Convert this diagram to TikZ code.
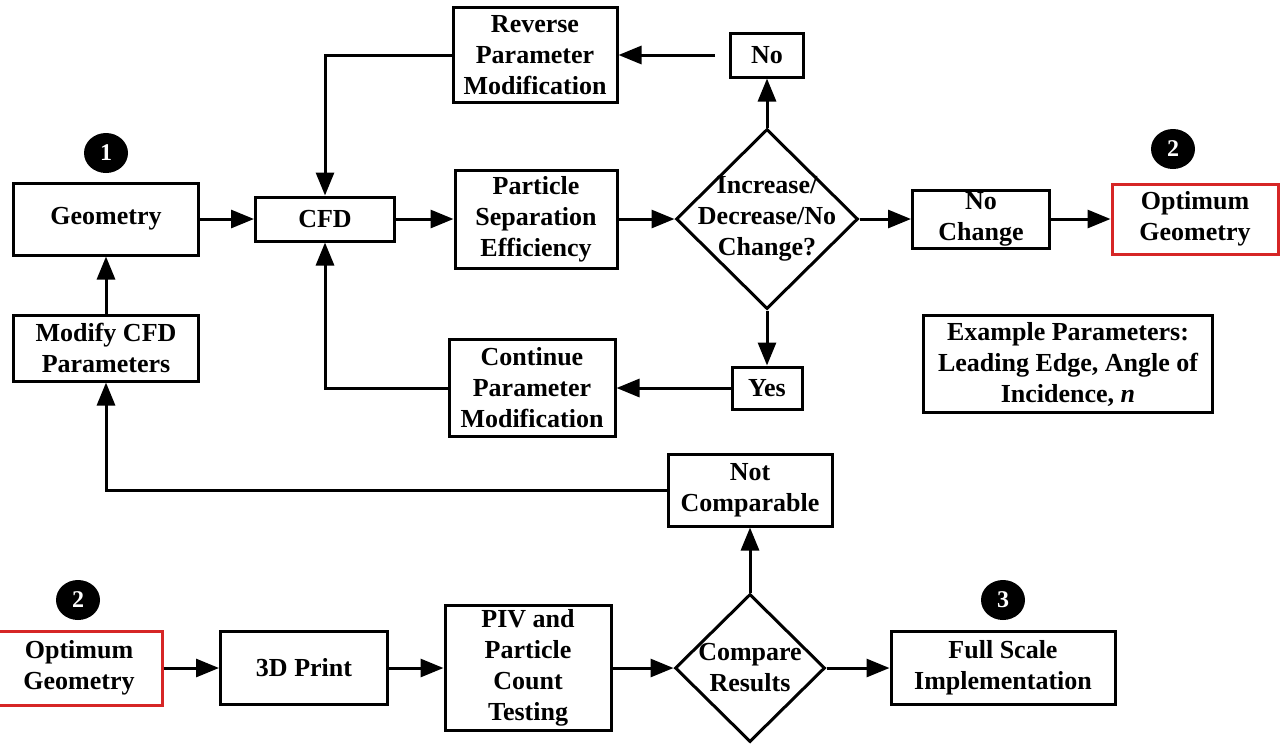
\documentclass[tikz,border=0pt]{standalone}
\usepackage{fontspec}
\setmainfont{Liberation Serif}
\usetikzlibrary{arrows.meta,shapes.geometric}
\definecolor{optred}{RGB}{214,38,38}

\tikzset{
  blk/.style={draw, line width=3pt, align=center, inner sep=0pt,
    font=\fontsize{26}{31}\selectfont\bfseries},
  optbox/.style={blk, draw=optred},
  decision/.style={draw, diamond, line width=3pt, inner sep=0pt},
  dectext/.style={align=center, font=\fontsize{26}{31}\selectfont\bfseries},
  marker/.style={ellipse, fill=black, text=white, minimum width=44pt,
    minimum height=40pt, inner sep=0pt, font=\fontsize{24}{24}\selectfont\bfseries},
  flow/.style={line width=3pt, -{Triangle[length=23pt,width=18pt]}}
}

\begin{document}
\begin{tikzpicture}[x=1pt, y=-1pt, line join=miter]
                \useasboundingbox (0,0) rectangle (1281,745);

                % top loop
                \node[blk, minimum width=185, minimum height=72] (geom) at (106,219) {Geometry};
                \node[blk, minimum width=139, minimum height=44] (cfd) at (325,219) {CFD};
                \node[blk, minimum width=162, minimum height=98] (pse) at (536,219) {Particle\\Separation\\Efficiency};
                \node[decision, minimum width=182, minimum height=180] (incdec) at (767,219) {};
                \node[dectext] (incdectxt) at (767,219) {Increase/\\Decrease/No\\Change?};
                \node[blk, minimum width=137, minimum height=58] (nochg) at (981,219) {No\\Change};
                \node[optbox, minimum width=166, minimum height=70] (optA) at (1195,219) {Optimum\\Geometry};

                \node[blk, minimum width=73, minimum height=44] (no) at (767,55) {No};
                \node[blk, minimum width=164, minimum height=95] (rev) at (535,55) {Reverse\\Parameter\\Modification};
                \node[blk, minimum width=70, minimum height=42] (yes) at (767,388) {Yes};
                \node[blk, minimum width=166, minimum height=97] (cont) at (532,388) {Continue\\Parameter\\Modification};

                \node[blk, minimum width=185, minimum height=66] (modify) at (106,348) {Modify CFD\\Parameters};
                \node[blk, minimum width=289, minimum height=97] (example) at (1068,364) {Example Parameters:\\Leading Edge, Angle of\\Incidence, \textit{n}};
                \node[blk, minimum width=164, minimum height=72] (notcomp) at (750,490) {Not\\Comparable};

                % bottom row
                \node[optbox, minimum width=166, minimum height=74] (optB) at (79,668) {Optimum\\Geometry};
                \node[blk, minimum width=167, minimum height=73] (print) at (304,668) {3D Print};
                \node[blk, minimum width=166, minimum height=125] (piv) at (528,668) {PIV and\\Particle\\Count\\Testing};
                \node[decision, minimum width=150, minimum height=148] (comp) at (750,668) {};
                \node[dectext] (comptxt) at (750,668) {Compare\\Results};
                \node[blk, minimum width=224, minimum height=73] (full) at (1003,668) {Full Scale\\Implementation};

                % numbered markers
                \node[marker] (m1) at (106,153) {1};
                \node[marker] (m2a) at (1173,149) {2};
                \node[marker] (m2b) at (78,600) {2};
                \node[marker] (m3) at (1003,600) {3};

                % connectors
                \draw[flow] (geom) -- (cfd);
                \draw[flow] (cfd) -- (pse);
                \draw[flow] (pse) -- (incdec.west);
                \draw[flow] (incdec.east) -- (nochg);
                \draw[flow] (nochg) -- (optA);
                \draw[flow] (incdec.north) -- (no);
                \draw[flow, shorten <=14pt] (no) -- (rev);
                \draw[flow] (rev.west) -| (cfd.north);
                \draw[flow] (incdec.south) -- (yes);
                \draw[flow] (yes) -- (cont);
                \draw[flow] (cont.west) -| (cfd.south);
                \draw[flow] (modify) -- (geom);
                \draw[flow] (notcomp.west) -| (modify.south);
                \draw[flow] (comp.north) -- (notcomp);
                \draw[flow] (optB) -- (print);
                \draw[flow] (print) -- (piv);
                \draw[flow] (piv) -- (comp.west);
                \draw[flow] (comp.east) -- (full);

\end{tikzpicture}
\end{document}
